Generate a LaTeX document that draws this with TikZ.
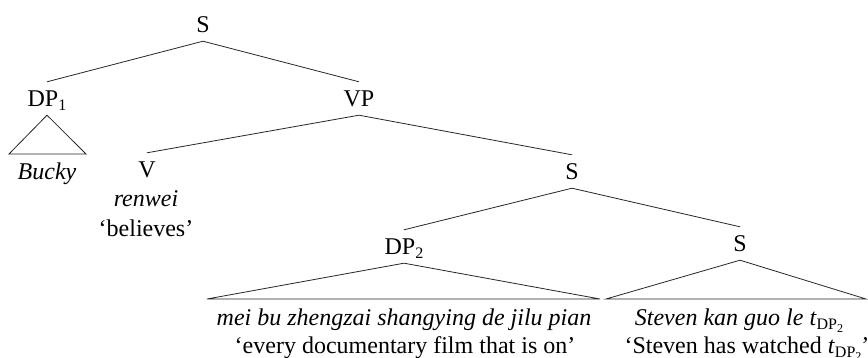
\documentclass[tikz,border=0pt]{standalone}
\usepackage{fontspec}
\setmainfont{Liberation Serif}
\newcommand\lsub[1]{\raisebox{-4pt}{\fontsize{16}{16}\selectfont #1}}
\newcommand\llsub[1]{\raisebox{-3pt}{\fontsize{12}{12}\selectfont #1}}
\begin{document}
\begin{tikzpicture}[x=1pt,y=-1pt,
  every node/.style={inner sep=0pt,anchor=base,font=\fontsize{24}{28}\selectfont},
  cat/.style={text height=25pt,text depth=8pt},
  leaf/.style={text height=16pt,text depth=5pt},
  edge/.style={line width=0.8pt,black!85}]
\useasboundingbox (0,0) rectangle (868,358);
% categories
\node[cat] (S1) at (203,33) {S};
\node[cat] (DP1) at (47,107) {DP\lsub{1}};
\node[cat] (VP) at (359,107) {VP};
\node[cat] (V) at (147,178) {V};
\node[cat] (S2) at (572,180) {S};
\node[cat] (DP2) at (404,255) {DP\lsub{2}};
\node[cat] (S3) at (740,252) {S};
% leaves
\node[leaf] (bucky) at (47,180) {\textit{Bucky}};
\node[leaf] (renwei) at (146,207) {\textit{renwei}};
\node[leaf] (believes) at (146,237) {‘believes’};
\node[leaf] (mei) at (404,325) {\textit{mei bu zhengzai shangying de jilu pian}};
\node[leaf] (every) at (405,353) {‘every documentary film that is on’};
\node[leaf] (steven) at (739,325) {\textit{Steven kan guo le t}\lsub{DP\llsub{2}}};
\node[leaf] (watched) at (747,353) {‘Steven has watched \textit{t}\lsub{DP\llsub{2}}’};
% triangle corners
\coordinate (t1l) at (9,154);
\coordinate (t1r) at (86,154);
\coordinate (t2l) at (207,299);
\coordinate (t2r) at (600,299);
\coordinate (t3l) at (606,299);
\coordinate (t3r) at (866,299);
% edges
\draw[edge] (S1.south) -- (DP1.north);
\draw[edge] (S1.south) -- (VP.north);
\draw[edge] (VP.south) -- (V.north);
\draw[edge] (VP.south) -- (S2.north);
\draw[edge] (S2.south) -- (DP2.north);
\draw[edge] (S2.south) -- (S3.north);
\draw[edge,line join=miter] (DP1.south) -- (t1l) -- (t1r) -- cycle;
\draw[edge,line join=miter] (DP2.south) -- (t2l) -- (t2r) -- cycle;
\draw[edge,line join=miter] (S3.south) -- (t3l) -- (t3r) -- cycle;
\end{tikzpicture}
\end{document}
